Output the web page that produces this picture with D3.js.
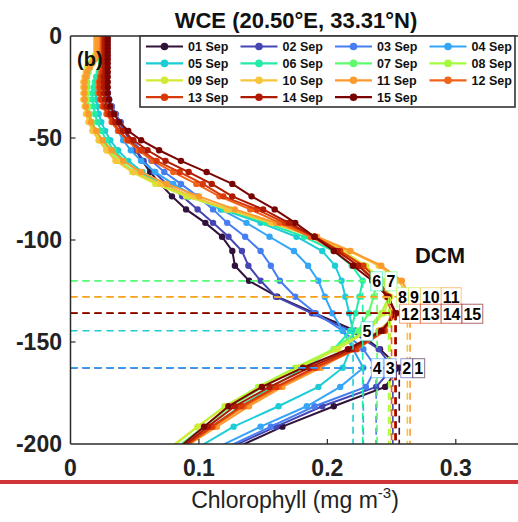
<!DOCTYPE html>
<html>
<head>
<meta charset="utf-8">
<script src="https://cdn.jsdelivr.net/npm/d3@7"></script>
<style>
  body { margin: 0; background: #fff; }
  svg { display: block; font-family: "Liberation Sans", Arial, Helvetica, sans-serif; }
</style>
</head>
<body>
<div id="chart"></div>
<script>
// model depth levels (m)
const depths = [1.0, 2.6, 4.3, 6.0, 7.7, 9.5, 11.4, 13.4, 15.5, 17.7,
  20.0, 22.5, 25.1, 28.0, 31.1, 34.5, 38.2, 42.2, 46.5, 51.1,
  56.0, 61.2, 66.7, 72.5, 78.6, 85.0, 91.6, 98.4, 105.4, 112.6,
  120.0, 127.8, 135.9, 144.5, 153.5, 162.6, 172.0, 181.5, 191.5, 201.5];

const days = ["01 Sep", "02 Sep", "03 Sep", "04 Sep", "05 Sep", "06 Sep", "07 Sep", "08 Sep",
  "09 Sep", "10 Sep", "11 Sep", "12 Sep", "13 Sep", "14 Sep", "15 Sep"];
const dayNums = ["1", "2", "3", "4", "5", "6", "7", "8", "9", "10", "11", "12", "13", "14", "15"];

const colors = ["#30123b", "#4546b4", "#467ef2", "#35a5f7", "#1dcdd6", "#25eba8", "#5efb6e", "#a2fb3c",
  "#d2e935", "#f6c53a", "#fd9a2f", "#f1621a", "#d83909", "#b01a02", "#7a0403"];

// chlorophyll (mg m-3) at each depth level
const chl01 = [0.027, 0.027, 0.027, 0.027, 0.027, 0.027, 0.027, 0.027, 0.027, 0.027,
  0.027, 0.028, 0.028, 0.029, 0.030, 0.032, 0.035, 0.039, 0.043, 0.047,
  0.051, 0.056, 0.062, 0.070, 0.079, 0.090, 0.105, 0.118, 0.126, 0.128,
  0.139, 0.161, 0.190, 0.222, 0.241, 0.256, 0.245, 0.205, 0.165, 0.130];
const chl02 = [0.027, 0.027, 0.027, 0.027, 0.027, 0.027, 0.027, 0.027, 0.027, 0.027,
  0.027, 0.028, 0.028, 0.029, 0.030, 0.032, 0.035, 0.038, 0.042, 0.046,
  0.051, 0.057, 0.065, 0.075, 0.087, 0.099, 0.111, 0.123, 0.1335, 0.1385,
  0.148, 0.160, 0.188, 0.218, 0.240, 0.251, 0.238, 0.196, 0.160, 0.125];
const chl03 = [0.028, 0.028, 0.028, 0.028, 0.028, 0.028, 0.028, 0.028, 0.028, 0.028,
  0.028, 0.028, 0.028, 0.029, 0.030, 0.032, 0.035, 0.039, 0.043, 0.048,
  0.055, 0.063, 0.073, 0.086, 0.099, 0.111, 0.122, 0.136, 0.148, 0.156,
  0.163, 0.175, 0.191, 0.212, 0.228, 0.238, 0.230, 0.190, 0.156, 0.122];
const chl04 = [0.027, 0.027, 0.027, 0.027, 0.027, 0.027, 0.027, 0.027, 0.027, 0.027,
  0.027, 0.027, 0.027, 0.027, 0.028, 0.029, 0.031, 0.034, 0.037, 0.041,
  0.047, 0.055, 0.066, 0.080, 0.097, 0.117, 0.137, 0.155, 0.174, 0.185,
  0.193, 0.198, 0.204, 0.212, 0.220, 0.228, 0.210, 0.184, 0.148, 0.115];
const chl05 = [0.025, 0.025, 0.025, 0.025, 0.025, 0.025, 0.025, 0.025, 0.025, 0.024,
  0.023, 0.022, 0.021, 0.020, 0.020, 0.021, 0.022, 0.024, 0.027, 0.031,
  0.037, 0.045, 0.056, 0.072, 0.093, 0.118, 0.148, 0.176, 0.196, 0.206,
  0.211, 0.214, 0.217, 0.220, 0.218, 0.212, 0.193, 0.162, 0.127, 0.100];
const chl06 = [0.024, 0.024, 0.024, 0.024, 0.024, 0.024, 0.024, 0.024, 0.024, 0.022,
  0.020, 0.019, 0.018, 0.017, 0.017, 0.018, 0.019, 0.021, 0.024, 0.028,
  0.034, 0.042, 0.053, 0.070, 0.092, 0.120, 0.152, 0.182, 0.205, 0.219,
  0.2275, 0.225, 0.222, 0.218, 0.205, 0.182, 0.157, 0.132, 0.110, 0.090];
const chl07 = [0.022, 0.022, 0.022, 0.022, 0.022, 0.021, 0.019, 0.017, 0.015, 0.014,
  0.013, 0.013, 0.013, 0.013, 0.013, 0.014, 0.015, 0.017, 0.020, 0.024,
  0.030, 0.038, 0.050, 0.068, 0.092, 0.122, 0.158, 0.190, 0.212, 0.229,
  0.2387, 0.236, 0.232, 0.224, 0.205, 0.178, 0.150, 0.125, 0.104, 0.083];
const chl08 = [0.021, 0.021, 0.021, 0.021, 0.021, 0.020, 0.018, 0.016, 0.014, 0.013,
  0.012, 0.012, 0.012, 0.012, 0.012, 0.013, 0.014, 0.016, 0.019, 0.023,
  0.029, 0.037, 0.049, 0.067, 0.092, 0.125, 0.160, 0.190, 0.212, 0.228,
  0.240, 0.2477, 0.242, 0.230, 0.205, 0.175, 0.146, 0.120, 0.099, 0.079];
const chl09 = [0.021, 0.021, 0.021, 0.021, 0.021, 0.019, 0.017, 0.015, 0.013, 0.012,
  0.011, 0.011, 0.011, 0.011, 0.011, 0.012, 0.013, 0.015, 0.018, 0.022,
  0.028, 0.036, 0.048, 0.066, 0.090, 0.122, 0.157, 0.188, 0.212, 0.230,
  0.243, 0.249, 0.244, 0.232, 0.208, 0.178, 0.148, 0.121, 0.099, 0.078];
const chl10 = [0.020, 0.020, 0.020, 0.020, 0.020, 0.020, 0.018, 0.016, 0.014, 0.012,
  0.011, 0.010, 0.010, 0.010, 0.010, 0.011, 0.012, 0.014, 0.017, 0.022,
  0.028, 0.035, 0.049, 0.070, 0.095, 0.122, 0.156, 0.190, 0.217, 0.240,
  0.256, 0.2623, 0.255, 0.240, 0.218, 0.193, 0.163, 0.138, 0.113, 0.088];
const chl11 = [0.021, 0.021, 0.021, 0.021, 0.021, 0.021, 0.019, 0.017, 0.015, 0.013,
  0.012, 0.011, 0.011, 0.011, 0.011, 0.012, 0.014, 0.016, 0.020, 0.025,
  0.032, 0.041, 0.055, 0.075, 0.100, 0.128, 0.160, 0.192, 0.218, 0.242,
  0.258, 0.2644, 0.256, 0.240, 0.220, 0.195, 0.165, 0.139, 0.114, 0.089];
const chl12 = [0.025, 0.025, 0.025, 0.025, 0.025, 0.025, 0.025, 0.025, 0.025, 0.024,
  0.023, 0.022, 0.022, 0.022, 0.023, 0.025, 0.028, 0.032, 0.037, 0.044,
  0.053, 0.064, 0.080, 0.098, 0.116, 0.140, 0.163, 0.187, 0.207, 0.225,
  0.238, 0.246, 0.2500, 0.245, 0.223, 0.192, 0.162, 0.135, 0.111, 0.089];
const chl13 = [0.026, 0.026, 0.026, 0.026, 0.026, 0.026, 0.026, 0.026, 0.026, 0.025,
  0.024, 0.023, 0.023, 0.023, 0.024, 0.026, 0.029, 0.033, 0.038, 0.045,
  0.055, 0.067, 0.085, 0.103, 0.119, 0.145, 0.167, 0.190, 0.210, 0.228,
  0.240, 0.248, 0.2525, 0.244, 0.222, 0.190, 0.160, 0.133, 0.110, 0.088];
const chl14 = [0.027, 0.027, 0.027, 0.027, 0.027, 0.027, 0.027, 0.027, 0.027, 0.027,
  0.026, 0.026, 0.026, 0.026, 0.027, 0.028, 0.031, 0.035, 0.041, 0.049,
  0.060, 0.074, 0.092, 0.110, 0.126, 0.150, 0.170, 0.190, 0.208, 0.224,
  0.237, 0.247, 0.2530, 0.243, 0.219, 0.186, 0.155, 0.128, 0.107, 0.087];
const chl15 = [0.029, 0.029, 0.029, 0.029, 0.029, 0.029, 0.029, 0.029, 0.029, 0.029,
  0.029, 0.029, 0.029, 0.029, 0.030, 0.031, 0.034, 0.038, 0.045, 0.055,
  0.069, 0.086, 0.106, 0.126, 0.141, 0.159, 0.175, 0.190, 0.205, 0.220,
  0.235, 0.247, 0.2535, 0.242, 0.216, 0.181, 0.149, 0.123, 0.104, 0.085];

const profiles = [chl01, chl02, chl03, chl04, chl05, chl06, chl07, chl08,
  chl09, chl10, chl11, chl12, chl13, chl14, chl15];

const xTicks = [0, 0.1, 0.2, 0.3];
const yTicks = [0, -50, -100, -150, -200];
const titleText = "WCE (20.50°E, 33.31°N)";

// layout
const W = 518, H = 522;
const x = d3.scaleLinear().domain([0, 0.35]).range([70.5, 520]);
const y = d3.scaleLinear().domain([-200, 0]).range([444, 36]);

const svg = d3.select("#chart").append("svg")
  .attr("width", W).attr("height", H);

svg.append("defs").append("clipPath").attr("id", "clip")
  .append("rect")
  .attr("x", x(0)).attr("y", y(0))
  .attr("width", x(0.35) - x(0)).attr("height", y(-200) - y(0));

const plot = svg.append("g").attr("clip-path", "url(#clip)");

const line = d3.line()
  .x((d) => x(d[0]))
  .y((d) => y(-d[1]));

// profiles
profiles.forEach(function (p, i) {
  const pts = p.map((v, k) => [v, depths[k]]);
  plot.append("path")
    .attr("d", line(pts))
    .attr("fill", "none")
    .attr("stroke", colors[i])
    .attr("stroke-width", 2);
  plot.selectAll(null)
    .data(pts)
    .enter()
    .append("circle")
    .attr("cx", (d) => x(d[0]))
    .attr("cy", (d) => y(-d[1]))
    .attr("r", 3.2)
    .attr("fill", colors[i]);
});

// deep chlorophyll maximum of each day
const dcm = profiles.map(function (p, i) {
  const k = d3.maxIndex(p);
  return { i: i, value: p[k], depth: depths[k] };
});

// dashed guides
dcm.forEach(function (d) {
  plot.append("line")
    .attr("x1", x(0)).attr("x2", x(d.value))
    .attr("y1", y(-d.depth)).attr("y2", y(-d.depth))
    .attr("stroke", colors[d.i]).attr("stroke-width", 1.6)
    .attr("stroke-dasharray", "7,5");
  plot.append("line")
    .attr("x1", x(d.value)).attr("x2", x(d.value))
    .attr("y1", y(-d.depth)).attr("y2", y(-200))
    .attr("stroke", colors[d.i]).attr("stroke-width", 1.6)
    .attr("stroke-dasharray", "7,5");
});

// day labels at the DCM, pushed right when they would overlap
const groups = d3.group(dcm, (d) => d.depth);
groups.forEach(function (list) {
  list.sort((a, b) => a.value - b.value);
  let prevRight = -Infinity;
  list.forEach(function (d) {
    const g = svg.append("g");
    const t = g.append("text")
      .attr("font-size", 16).attr("font-weight", "bold")
      .attr("dominant-baseline", "central")
      .attr("y", y(-d.depth) + 1)
      .text(dayNums[d.i]);
    const tw = t.node().getComputedTextLength();
    const left = Math.max(x(d.value) + 8, prevRight);
    const bw = tw + 3;
    g.insert("rect", "text")
      .attr("x", left).attr("y", y(-d.depth) - 9)
      .attr("width", bw).attr("height", 19)
      .attr("fill", "#fff")
      .attr("stroke", colors[d.i]).attr("stroke-opacity", 0.6)
      .attr("stroke-width", 1);
    t.attr("x", left + 1.5);
    prevRight = left + bw;
  });
});

svg.append("text")
  .attr("x", 440).attr("y", 263)
  .attr("text-anchor", "middle")
  .attr("font-size", 22).attr("font-weight", "bold")
  .attr("fill", "#111")
  .text("DCM");

// axes
const axisColor = "#2b2b2b";
svg.append("line")
  .attr("x1", x(0)).attr("x2", x(0.35))
  .attr("y1", y(0)).attr("y2", y(0))
  .attr("stroke", axisColor).attr("stroke-width", 1.5);
svg.append("line")
  .attr("x1", x(0)).attr("x2", x(0.35))
  .attr("y1", y(-200)).attr("y2", y(-200))
  .attr("stroke", axisColor).attr("stroke-width", 1.5);
svg.append("line")
  .attr("x1", x(0)).attr("x2", x(0))
  .attr("y1", y(0)).attr("y2", y(-200))
  .attr("stroke", axisColor).attr("stroke-width", 1.5);

svg.selectAll(null).data(xTicks.filter((d) => d > 0)).enter()
  .append("line")
  .attr("x1", (d) => x(d)).attr("x2", (d) => x(d))
  .attr("y1", y(-200)).attr("y2", y(-200) - 5)
  .attr("stroke", axisColor).attr("stroke-width", 1.2);
svg.selectAll(null).data(yTicks.filter((d) => d > -200 && d < 0)).enter()
  .append("line")
  .attr("x1", x(0)).attr("x2", x(0) + 5)
  .attr("y1", (d) => y(d)).attr("y2", (d) => y(d))
  .attr("stroke", axisColor).attr("stroke-width", 1.2);

svg.selectAll(null).data(xTicks).enter()
  .append("text")
  .attr("x", (d) => x(d)).attr("y", 476)
  .attr("text-anchor", "middle")
  .attr("font-size", 23).attr("font-weight", "bold").attr("fill", "#222")
  .text((d) => d3.format("")(d));
svg.selectAll(null).data(yTicks).enter()
  .append("text")
  .attr("x", 62).attr("y", (d) => y(d) + 8)
  .attr("text-anchor", "end")
  .attr("font-size", 23).attr("font-weight", "bold").attr("fill", "#222")
  .text((d) => d);

// title and panel tag
svg.append("text")
  .attr("x", 296).attr("y", 28)
  .attr("text-anchor", "middle")
  .attr("font-size", 22).attr("font-weight", "bold").attr("fill", "#111")
  .text(titleText);
svg.append("text")
  .attr("x", 77).attr("y", 66)
  .attr("font-size", 20).attr("font-weight", "bold").attr("fill", "#111")
  .text("(b)");

// legend
const leg = svg.append("g");
leg.append("rect")
  .attr("x", 140).attr("y", 36)
  .attr("width", 375).attr("height", 71)
  .attr("fill", "#fff")
  .attr("stroke", "#333").attr("stroke-width", 1.6);
days.forEach(function (name, i) {
  const col = i % 4, row = Math.floor(i / 4);
  const x0 = 146 + col * 94.5;
  const yy = 46.5 + row * 16.9;
  leg.append("line")
    .attr("x1", x0).attr("x2", x0 + 37)
    .attr("y1", yy).attr("y2", yy)
    .attr("stroke", colors[i]).attr("stroke-width", 2.2);
  leg.append("circle")
    .attr("cx", x0 + 18.5).attr("cy", yy).attr("r", 3.8)
    .attr("fill", colors[i]);
  leg.append("text")
    .attr("x", x0 + 42).attr("y", yy + 4.5)
    .attr("font-size", 12.5).attr("font-weight", "bold").attr("fill", "#111")
    .text(name);
});

// x axis title
const xl = svg.append("text")
  .attr("x", 295).attr("y", 508)
  .attr("text-anchor", "middle")
  .attr("font-size", 23).attr("fill", "#222");
xl.append("tspan").text("Chlorophyll (mg m");
xl.append("tspan").attr("font-size", 15).attr("dy", -10).text("-3");
xl.append("tspan").attr("dy", 10).text(")");

// separator rule
svg.append("rect")
  .attr("x", 0).attr("y", 480)
  .attr("width", W).attr("height", 4)
  .attr("fill", "#d13438");
</script>
</body>
</html>
